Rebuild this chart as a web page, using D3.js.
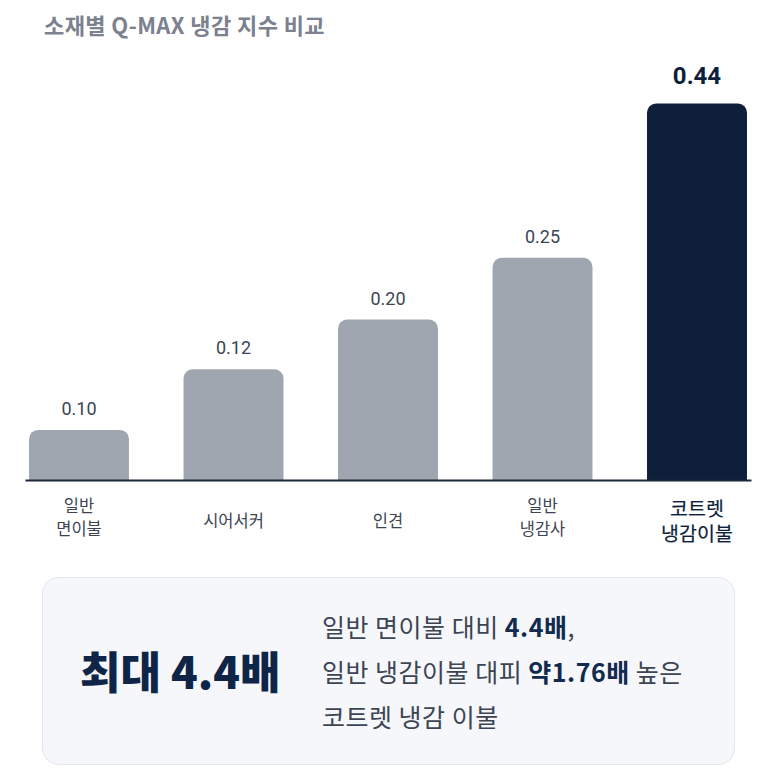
<!DOCTYPE html>
<html><head><meta charset="utf-8">
<script src="https://cdn.jsdelivr.net/npm/d3@7"></script>
<style>body{margin:0;background:#fff} svg{display:block}</style>
</head><body>
<svg id="c" width="767" height="776"></svg>
<script>
// ---- data ----
const title = "소재별 Q-MAX 냉감 지수 비교";
const categories = ["일반\n면이불", "시어서커", "인견", "일반\n냉감사", "코트렛\n냉감이불"];
const values = [0.10, 0.12, 0.20, 0.25, 0.44];
const valueLabels = ["0.10", "0.12", "0.20", "0.25", "0.44"];
// relative bar height shown in the picture (percent of tallest bar)
const barHeightIndex = [13.3, 29.4, 42.6, 59.0, 100];
const highlightCategory = "코트렛\n냉감이불";
const calloutBig = "최대 4.4배";
const calloutLines = [
  [["일반 면이불 대비 ", false], ["4.4배", true], [",", false]],
  [["일반 냉감이불 대피 ", false], ["약1.76배", true], [" 높은", false]],
  [["코트렛 냉감 이불", false]]
];

// ---- drawing ----
const svg = d3.select("#c");
const KR = "'Noto Sans CJK KR', 'Noto Sans', sans-serif";
const NUM = "Roboto, 'Noto Sans CJK KR', sans-serif";
const navy = "#0d1f3b", gray = "#a0a6b0", textGray = "#3d4452";

svg.append("text").attr("x", 44).attr("y", 34)
  .attr("font-family", KR).attr("font-weight", 700).attr("font-size", 22)
  .attr("letter-spacing", 0.4)
  .attr("fill", "#7b818e").text(title);

const baseY = 480;
const x = d3.scaleBand().domain(categories).range([25, 751])
  .paddingInner(0.353).paddingOuter(0.026);
const y = d3.scaleLinear().domain([0, 100]).range([baseY, 103.5]);

const data = categories.map((c, i) => ({c, v: values[i], label: valueLabels[i], h: barHeightIndex[i], hl: c === highlightCategory}));

function topRounded(x0, y0, w, h, r) {
  return `M${x0},${y0 + h}V${y0 + r}A${r},${r} 0 0 1 ${x0 + r},${y0}H${x0 + w - r}A${r},${r} 0 0 1 ${x0 + w},${y0 + r}V${y0 + h}Z`;
}

svg.append("g").selectAll("path").data(data).join("path")
  .attr("d", d => topRounded(x(d.c), y(d.h), x.bandwidth(), baseY - y(d.h), 9))
  .attr("fill", d => d.hl ? navy : gray);

svg.append("g").selectAll("text").data(data).join("text")
  .attr("x", d => x(d.c) + x.bandwidth() / 2)
  .attr("y", d => y(d.h) - (d.hl ? 20 : 15))
  .attr("text-anchor", "middle")
  .attr("font-family", NUM)
  .attr("font-size", d => d.hl ? 24 : 18)
  .attr("font-weight", d => d.hl ? 700 : 400)
  .attr("fill", d => d.hl ? navy : textGray)
  .text(d => d.label);

const axis = svg.append("g").attr("transform", `translate(0,${baseY})`)
  .call(d3.axisBottom(x).tickSize(0).tickSizeOuter(0).tickFormat(""));
axis.select(".domain").attr("stroke", "#1c2638").attr("stroke-width", 2);

const catG = svg.append("g");
data.forEach(d => {
  const lines = d.c.split("\n");
  const fs = d.hl ? 19.5 : 16.5;
  const lh = d.hl ? 24.5 : 23;
  const firstBase = d.hl ? 516 : (lines.length === 2 ? 512 : 527);
  const t = catG.append("text")
    .attr("text-anchor", "middle")
    .attr("font-family", KR)
    .attr("font-size", fs)
    .attr("font-weight", 400)
    .attr("fill", d.hl ? navy : textGray)
    .attr("stroke", d.hl ? navy : "none")
    .attr("stroke-width", d.hl ? 0.2 : 0);
  lines.forEach((l, i) => {
    t.append("tspan").attr("x", x(d.c) + x.bandwidth() / 2)
      .attr("y", firstBase + i * lh).text(l);
  });
});

// callout box
svg.append("rect").attr("x", 42.5).attr("y", 577.5).attr("width", 692).attr("height", 187)
  .attr("rx", 16).attr("fill", "#f5f7fb").attr("stroke", "#e2e6ed");

svg.append("text").attr("x", 80).attr("y", 689)
  .attr("font-family", KR).attr("font-weight", 900).attr("font-size", 44)
  .attr("fill", "#0f2547").text(calloutBig);

calloutLines.forEach((parts, i) => {
  const t = svg.append("text").attr("x", 322).attr("y", 637 + i * 45)
    .attr("font-family", KR).attr("font-size", 25).attr("letter-spacing", 0.5);
  parts.forEach(([s, b]) => {
    t.append("tspan").text(s)
      .attr("font-weight", b ? 700 : 400)
      .attr("fill", b ? "#112a4e" : textGray);
  });
});
</script>
</body></html>
